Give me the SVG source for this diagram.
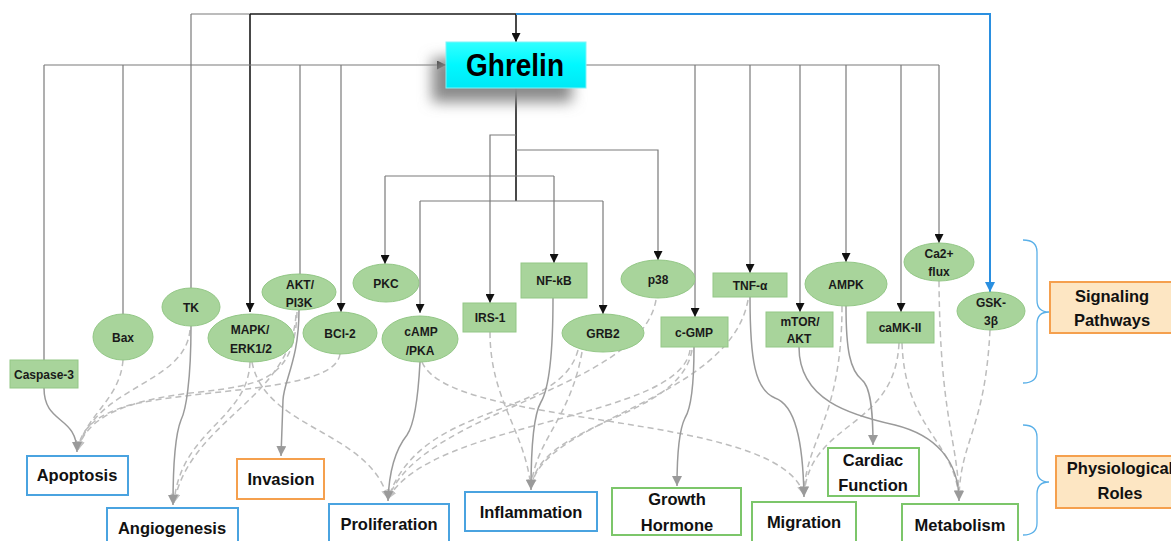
<svg xmlns="http://www.w3.org/2000/svg" width="1171" height="541" viewBox="0 0 1171 541">
<style>
.ln{fill:none;stroke:#7a7a7a;stroke-width:1.2}
.bk{fill:none;stroke:#1a1a1a;stroke-width:1.6}
.bl{fill:none;stroke:#2a8fe0;stroke-width:2}
.so{fill:none;stroke:#9a9a9a;stroke-width:1.5}
.da{fill:none;stroke:#bdbdbd;stroke-width:1.5;stroke-dasharray:6 4}
.nd{fill:#a8d49b;stroke:#93c786;stroke-width:1}
.nt{font-family:"Liberation Sans",Arial,sans-serif;font-weight:bold;font-size:12px;fill:#1a1a1a;text-anchor:middle}
.rt{font-family:"Liberation Sans",Arial,sans-serif;font-weight:bold;font-size:16.5px;fill:#111;text-anchor:middle}
.rb{fill:#fff;stroke-width:2}
.blu{stroke:#4aa3e0}
.org{stroke:#f5a04e}
.grn{stroke:#7cc66a}
.brace{fill:none;stroke:#5ab0e8;stroke-width:1.3}
</style>
<defs>
<marker id="ab" viewBox="0 0 10 10" refX="10" refY="5" markerWidth="9" markerHeight="9" orient="auto" markerUnits="userSpaceOnUse"><path d="M0,0L10,5L0,10z" fill="#111"/></marker>
<marker id="ag" viewBox="0 0 10 10" refX="10" refY="5" markerWidth="10" markerHeight="10" orient="auto" markerUnits="userSpaceOnUse"><path d="M0,0L10,5L0,10z" fill="#9a9a9a"/></marker>
<marker id="ad" viewBox="0 0 10 10" refX="10" refY="5" markerWidth="9" markerHeight="9" orient="auto" markerUnits="userSpaceOnUse"><path d="M0,0L10,5L0,10z" fill="#c4c4c4"/></marker>
<marker id="abl" viewBox="0 0 10 10" refX="10" refY="5" markerWidth="10" markerHeight="10" orient="auto" markerUnits="userSpaceOnUse"><path d="M0,0L10,5L0,10z" fill="#2a8fe0"/></marker>
<filter id="sh" x="-40%" y="-40%" width="180%" height="200%"><feGaussianBlur stdDeviation="7"/></filter>
<linearGradient id="cy" x1="0" y1="0" x2="0" y2="1"><stop offset="0" stop-color="#33ffff"/><stop offset="0.5" stop-color="#00f8ff"/><stop offset="1" stop-color="#00e8f5"/></linearGradient>
</defs>
<rect width="1171" height="541" fill="#fff"/>

<g id="connectors">
<!-- top trunks -->
<path class="ln" d="M191,14H250"/>
<path class="ln" d="M191,14V288"/>
<path class="bk" d="M250,14H516"/>
<path class="bk" d="M516,14V42" marker-end="url(#ab)"/>
<path class="bk" d="M250,14V312" marker-end="url(#ab)"/>
<path class="bl" d="M516,14H990V292" marker-end="url(#abl)"/>
<path class="ln" d="M44,65H446" marker-end="url(#ab)"/>
<path class="ln" d="M44,65V360"/>
<path class="ln" d="M123,65V314"/>
<path class="ln" d="M300,65V274"/>
<path class="ln" d="M341,65V312" marker-end="url(#ab)"/>
<path class="ln" d="M586,65H939"/>
<path class="ln" d="M695,65V317" marker-end="url(#ab)"/>
<path class="ln" d="M750,65V273" marker-end="url(#ab)"/>
<path class="ln" d="M800,65V312" marker-end="url(#ab)"/>
<path class="ln" d="M846,65V262" marker-end="url(#ab)"/>
<path class="ln" d="M901,65V312" marker-end="url(#ab)"/>
<path class="ln" d="M939,65V243" marker-end="url(#ab)"/>
<path class="bk" d="M516,88V201"/>
<path class="ln" d="M516,135H490V303" marker-end="url(#ab)"/>
<path class="ln" d="M516,150H658V260" marker-end="url(#ab)"/>
<path class="ln" d="M385,176H554"/>
<path class="ln" d="M385,176V264" marker-end="url(#ab)"/>
<path class="ln" d="M554,176V263" marker-end="url(#ab)"/>
<path class="ln" d="M420,201H603"/>
<path class="ln" d="M420,201V313" marker-end="url(#ab)"/>
<path class="ln" d="M603,201V314" marker-end="url(#ab)"/>

<!-- dashed -->
<path class="da" d="M123,360C120,400 85,415 78,450" marker-end="url(#ad)"/>
<path class="da" d="M190,330C185,385 95,385 78,450" marker-end="url(#ad)"/>
<path class="da" d="M297,312C295,380 260,385 200,392C120,400 85,420 78,450" marker-end="url(#ad)"/>
<path class="da" d="M340,354C335,392 200,388 130,405C95,415 80,430 78,450" marker-end="url(#ad)"/>
<path class="da" d="M250,362C248,420 180,430 174,503" marker-end="url(#ad)"/>
<path class="da" d="M296,315C290,400 190,420 174,503" marker-end="url(#ad)"/>
<path class="da" d="M252,362C265,430 370,430 388,499" marker-end="url(#ad)"/>
<path class="da" d="M578,350C560,420 420,400 388,499" marker-end="url(#ad)"/>
<path class="da" d="M656,300C640,390 420,410 388,499" marker-end="url(#ad)"/>
<path class="da" d="M690,350C680,420 430,420 388,499" marker-end="url(#ad)"/>
<path class="da" d="M490,332C490,400 525,430 531,488" marker-end="url(#ad)"/>
<path class="da" d="M582,352C570,420 535,440 531,488" marker-end="url(#ad)"/>
<path class="da" d="M692,350C680,420 540,420 531,488" marker-end="url(#ad)"/>
<path class="da" d="M748,300C730,400 540,420 531,488" marker-end="url(#ad)"/>
<path class="da" d="M422,362C450,430 780,410 804,495" marker-end="url(#ad)"/>
<path class="da" d="M842,306C842,420 805,440 804,495" marker-end="url(#ad)"/>
<path class="da" d="M899,343C895,430 810,420 804,495" marker-end="url(#ad)"/>
<path class="da" d="M902,343C905,430 955,440 959,499" marker-end="url(#ad)"/>
<path class="da" d="M939,281C940,420 958,440 959,499" marker-end="url(#ad)"/>
<path class="da" d="M990,330C985,430 960,440 959,499" marker-end="url(#ad)"/>

<!-- solid -->
<path class="so" d="M44,388C44,425 77,415 77,452" marker-end="url(#ag)"/>
<path class="so" d="M191,326C191,380 186,410 181,420C175,435 173,470 173,505" marker-end="url(#ag)"/>
<path class="so" d="M299,310C299,360 284,380 283,400L281,456" marker-end="url(#ag)"/>
<path class="so" d="M420,362C418,400 414,425 407,435C395,450 389,470 388,501" marker-end="url(#ag)"/>
<path class="so" d="M553,298C553,360 548,390 541,402C534,414 531,450 531,490" marker-end="url(#ag)"/>
<path class="so" d="M694,347C694,390 690,410 685,418C679,430 677,460 677,486" marker-end="url(#ag)"/>
<path class="so" d="M750,297C750,360 755,390 775,398C795,405 803,440 804,497" marker-end="url(#ag)"/>
<path class="so" d="M846,306C846,350 850,370 862,380C872,388 873,420 873,445" marker-end="url(#ag)"/>
<path class="so" d="M799,347C799,400 850,415 895,425C935,435 959,460 959,501" marker-end="url(#ag)"/>
</g>

<g id="braces">
<path class="brace" d="M1023,240Q1037,240 1037,252L1037,300Q1037,312 1049,312Q1037,312 1037,324L1037,371Q1037,383 1023,383"/>
<path class="brace" d="M1023,425Q1037,425 1037,437L1037,470Q1037,482 1049,482Q1037,482 1037,494L1037,523Q1037,535 1023,535"/>
</g>

<g id="ghrelin">
<rect x="432" y="58" width="140" height="44" fill="#8a8a8a" filter="url(#sh)"/>
<rect x="446" y="42" width="140" height="46" fill="url(#cy)" stroke="#7ff3f7" stroke-width="1"/>
<text x="515" y="76" font-family="Liberation Sans,Arial,sans-serif" font-weight="bold" font-size="32" textLength="98" lengthAdjust="spacingAndGlyphs" text-anchor="middle" fill="#000">Ghrelin</text>
</g>

<g id="caspase3"><rect class="nd" x="10" y="360" width="68" height="28"/><text class="nt" x="44" y="379">Caspase-3</text></g>
<g id="bax"><ellipse class="nd" cx="123" cy="337" rx="30" ry="23"/><text class="nt" x="123" y="342">Bax</text></g>
<g id="tk"><ellipse class="nd" cx="191" cy="307" rx="29" ry="19"/><text class="nt" x="191" y="312">TK</text></g>
<g id="mapk"><ellipse class="nd" cx="251" cy="338" rx="43" ry="24"/><text class="nt" x="250" y="334">MAPK/</text><text class="nt" x="251" y="353">ERK1/2</text></g>
<g id="akt-pi3k"><ellipse class="nd" cx="299" cy="292" rx="37" ry="18"/><text class="nt" x="300" y="289">AKT/</text><text class="nt" x="299" y="307">PI3K</text></g>
<g id="bcl2"><ellipse class="nd" cx="340" cy="333" rx="37" ry="21"/><text class="nt" x="340" y="338">BCl-2</text></g>
<g id="pkc"><ellipse class="nd" cx="386" cy="283" rx="33" ry="19"/><text class="nt" x="386" y="288">PKC</text></g>
<g id="camp"><ellipse class="nd" cx="420" cy="339" rx="38" ry="23"/><text class="nt" x="421" y="336">cAMP</text><text class="nt" x="420" y="355">/PKA</text></g>
<g id="irs1"><rect class="nd" x="463" y="303" width="53" height="29"/><text class="nt" x="490" y="322">IRS-1</text></g>
<g id="nfkb"><rect class="nd" x="521" y="263" width="66" height="35"/><text class="nt" x="554" y="285">NF-kB</text></g>
<g id="grb2"><ellipse class="nd" cx="603" cy="333" rx="41" ry="19"/><text class="nt" x="603" y="338">GRB2</text></g>
<g id="p38"><ellipse class="nd" cx="658" cy="279" rx="37" ry="19"/><text class="nt" x="658" y="284">p38</text></g>
<g id="cgmp"><rect class="nd" x="661" y="317" width="67" height="30"/><text class="nt" x="694" y="337">c-GMP</text></g>
<g id="tnfa"><rect class="nd" x="713" y="273" width="74" height="24"/><text class="nt" x="750" y="290">TNF-α</text></g>
<g id="mtor"><rect class="nd" x="766" y="312" width="67" height="35"/><text class="nt" x="800" y="326">mTOR/</text><text class="nt" x="799" y="343">AKT</text></g>
<g id="ampk"><ellipse class="nd" cx="846" cy="284" rx="41" ry="22"/><text class="nt" x="846" y="289">AMPK</text></g>
<g id="camk2"><rect class="nd" x="867" y="312" width="67" height="31"/><text class="nt" x="900" y="332">caMK-II</text></g>
<g id="ca2flux"><ellipse class="nd" cx="939" cy="262" rx="35" ry="19"/><text class="nt" x="939" y="258">Ca2+</text><text class="nt" x="939" y="276">flux</text></g>
<g id="gsk3b"><ellipse class="nd" cx="991" cy="311" rx="34" ry="19"/><text class="nt" x="991" y="307">GSK-</text><text class="nt" x="991" y="325">3β</text></g>

<g id="apoptosis"><rect class="rb blu" x="27" y="456" width="101" height="39"/><text class="rt" x="77" y="481">Apoptosis</text></g>
<g id="angiogenesis"><rect class="rb blu" x="107" y="508" width="131" height="40"/><text class="rt" x="172" y="534">Angiogenesis</text></g>
<g id="invasion"><rect class="rb org" x="237" y="459" width="87" height="40"/><text class="rt" x="281" y="485">Invasion</text></g>
<g id="proliferation"><rect class="rb blu" x="329" y="504" width="120" height="44"/><text class="rt" x="389" y="530">Proliferation</text></g>
<g id="inflammation"><rect class="rb blu" x="465" y="492" width="132" height="39"/><text class="rt" x="531" y="518">Inflammation</text></g>
<g id="growth-hormone"><rect class="rb grn" x="612" y="488" width="129" height="47"/><text class="rt" x="677" y="505">Growth</text><text class="rt" x="677" y="531">Hormone</text></g>
<g id="migration"><rect class="rb grn" x="752" y="502" width="104" height="46"/><text class="rt" x="804" y="528">Migration</text></g>
<g id="cardiac-function"><rect class="rb grn" x="828" y="448" width="91" height="48"/><text class="rt" x="873" y="466">Cardiac</text><text class="rt" x="873" y="491">Function</text></g>
<g id="metabolism"><rect class="rb grn" x="902" y="504" width="116" height="44"/><text class="rt" x="960" y="531">Metabolism</text></g>

<g id="signaling-pathways"><rect x="1050" y="282" width="126" height="51" fill="#fde6c3" stroke="#f5a04e" stroke-width="2"/><text class="rt" x="1112" y="302">Signaling</text><text class="rt" x="1112" y="326">Pathways</text></g>
<g id="physiological-roles"><rect x="1056" y="456" width="120" height="52" fill="#fde6c3" stroke="#f5a04e" stroke-width="2"/><text class="rt" x="1120" y="474">Physiological</text><text class="rt" x="1120" y="499">Roles</text></g>
</svg>
